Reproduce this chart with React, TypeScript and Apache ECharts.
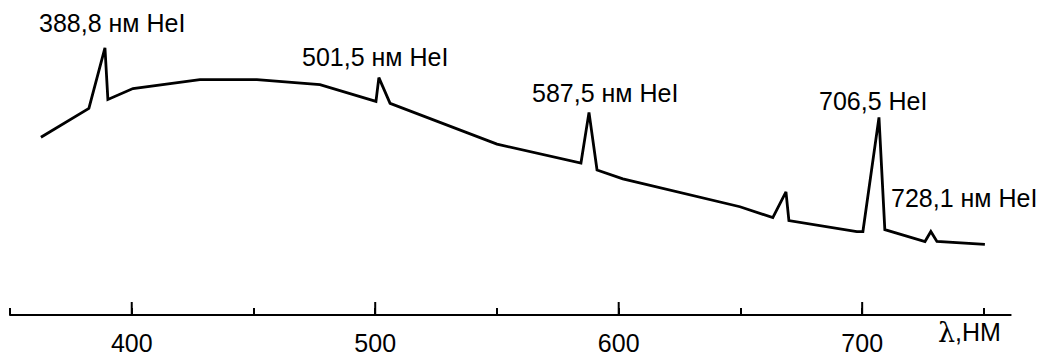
import React, { useEffect, useRef } from "react";
import * as echarts from "echarts";

// Wavelengths (nm) of the polyline vertices
const wavelengths = [
  362.7, 382.4, 389.0, 390.2, 400.5, 428.0, 451.4, 477.3, 500.3, 501.5, 506.1,
  550.0, 584.5, 587.8, 591.1, 601.7, 649.8, 663.3, 668.7, 669.9, 697.8, 700.3,
  706.9, 709.3, 725.8, 728.2, 730.7, 750.4,
];
// Relative intensity at each vertex
const intensities = [
  179, 208, 269, 217, 228, 237, 237, 232, 215, 239, 213,
  172, 153, 204, 146, 137, 109, 98, 124, 95, 84, 84,
  199, 86, 74, 84, 74, 71,
];
// Major tick positions (labelled)
const majorTicks = [400, 500, 600, 700];
// Line annotations
const annotations = [
  "388,8 нм HeI",
  "501,5 нм HeI",
  "587,5 нм HeI",
  "706,5 HeI",
  "728,1 нм HeI",
];
const axisSymbol = "λ";
const axisUnit = ",НМ";

const FONT = "'Liberation Sans', Arial, sans-serif";

export default function App() {
  const ref = useRef<HTMLDivElement>(null);

  useEffect(() => {
    if (!ref.current) return;
    const chart = echarts.init(ref.current, undefined, { renderer: "svg" });
    const lineData = wavelengths.map((w, i) => [w, intensities[i]]);
    const annPos = [
      [39, 10.8],
      [302, 44.5],
      [532, 80.3],
      [819, 88.8],
      [891, 185.8],
    ];
    chart.setOption({
      animation: false,
      backgroundColor: "#ffffff",
      grid: { left: 10, right: 32.3, top: 17, bottom: 38 },
      xAxis: {
        type: "value",
        min: 350,
        max: 761,
        interval: 50,
        axisLine: { show: true, onZero: false, lineStyle: { color: "#000", width: 2 } },
        axisTick: { show: true, inside: true, length: 7, lineStyle: { color: "#000", width: 2 } },
        splitLine: { show: false },
        axisLabel: {
          show: true,
          margin: 15,
          color: "#000",
          fontSize: 25,
          fontFamily: FONT,
          showMinLabel: true,
          showMaxLabel: false,
          formatter: (v: number) => (v % 100 === 0 ? String(v) : ""),
        },
      },
      yAxis: {
        type: "value",
        min: 0,
        max: 300,
        show: false,
      },
      series: [
        {
          type: "line",
          data: lineData,
          symbol: "none",
          lineStyle: { color: "#000", width: 2.8, join: "miter", miterLimit: 3 },
        },
        {
          type: "custom",
          data: majorTicks.map((t) => [t, 0]),
          renderItem: (params: any, api: any) => {
            const p = api.coord([api.value(0), 0]);
            return {
              type: "line",
              shape: { x1: p[0], y1: p[1], x2: p[0], y2: p[1] - 13 },
              style: { stroke: "#000", lineWidth: 2 },
            };
          },
          clip: false,
        },
      ],
      graphic: [
        ...annotations.map((t, i) => ({
          type: "text",
          x: annPos[i][0],
          y: annPos[i][1],
          style: {
            text: t,
            fill: "#000",
            font: `25px ${FONT}`,
            textVerticalAlign: "top",
          },
        })),
        {
          type: "text",
          x: 938,
          y: 318.8,
          style: {
            text: `{l|${axisSymbol}}${axisUnit}`,
            fill: "#000",
            font: `25px ${FONT}`,
            textVerticalAlign: "top",
            rich: {
              l: {
                fontFamily: "'DejaVu Serif', serif",
                fontSize: 27,
                fill: "#000",
              },
            },
          },
        },
      ],
    });
    return () => chart.dispose();
  }, []);

  return (
    <div
      ref={ref}
      style={{ position: "fixed", left: 0, top: 0, width: 1043, height: 355, background: "#fff" }}
    />
  );
}
